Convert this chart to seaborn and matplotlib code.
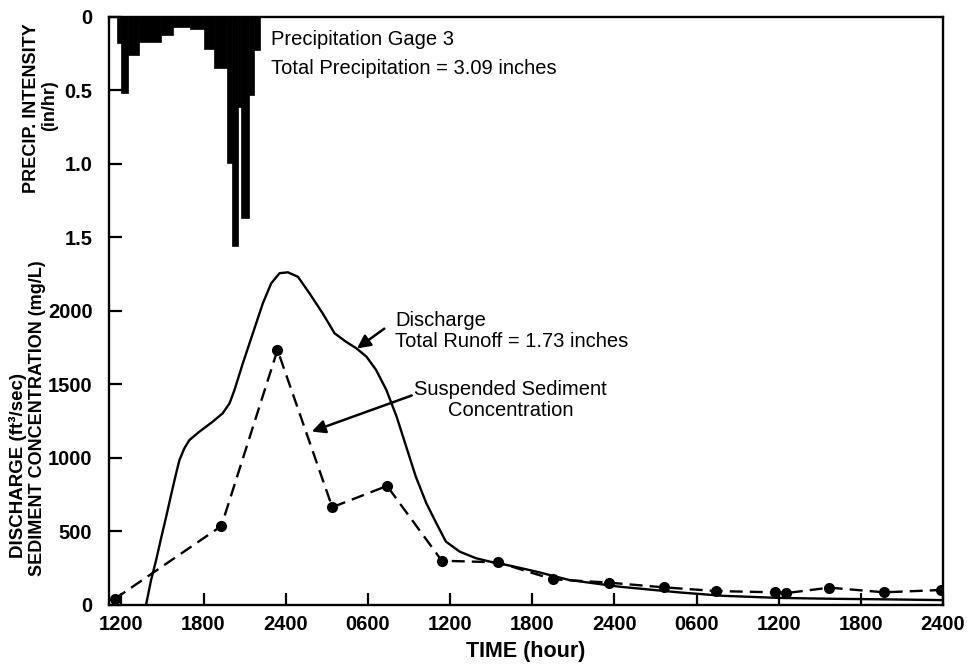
import matplotlib
matplotlib.use("Agg")
import matplotlib.pyplot as plt
import seaborn as sns
import numpy as np
import pandas as pd

# ---------------- data ----------------
# precipitation (hours after 1200 on day 1), breakpoint intervals
precip_edges = [-0.35, 0.0, 0.5, 1.3, 2.9, 3.75, 5.0, 6.0, 6.75, 7.7, 8.05,
                8.55, 8.7, 9.3, 9.65, 10.15]
precip_rate = [0.175, 0.515, 0.26, 0.17, 0.12, 0.066, 0.085, 0.22, 0.35, 0.99,
               1.56, 0.61, 1.37, 0.53, 0.225]

# discharge (ft3/sec)
q_hours = [1.8, 2.17, 2.54, 2.9, 3.27, 3.63, 4.0, 4.24, 4.6, 4.97, 5.7, 6.67,
           7.4, 7.9, 8.26, 8.87, 9.6, 10.33, 10.94, 11.55, 12.16, 12.89, 13.74,
           14.7, 15.57, 16.4, 17.16, 17.9, 18.6, 19.35, 20.1, 20.8, 21.5,
           22.27, 23.0, 23.7, 24.7, 25.9, 26.9, 28.5, 30.3, 32.7, 36.4, 40.8,
           44.0, 48.0, 52.0, 56.0, 60.0]
q_cfs = [0, 170, 306, 454, 600, 748, 896, 986, 1066, 1122, 1179, 1247, 1304,
         1372, 1463, 1644, 1848, 2052, 2188, 2257, 2263, 2233, 2120, 1984, 1848,
         1791, 1746, 1689, 1599, 1463, 1281, 1077, 873, 692, 556, 431, 363, 318,
         295, 265, 227, 170, 124, 85, 62, 48, 42, 38, 33]

# suspended sediment concentration (mg/L)
sed_hours = [-0.5, 7.3, 11.4, 15.4, 19.4, 23.4, 27.5, 31.5, 35.6, 39.6, 43.4,
             47.7, 48.5, 51.7, 55.7, 59.85]
sed_conc = [40, 537, 1735, 665, 810, 301, 290, 175, 152, 120, 95, 86, 80, 118,
            86, 102]

time_ticks = [0, 6, 12, 18, 24, 30, 36, 42, 48, 54, 60]
time_labels = ["1200", "1800", "2400", "0600", "1200", "1800", "2400", "0600",
               "1200", "1800", "2400"]
q_ticks = [0, 500, 1000, 1500, 2000]
p_ticks = [0, 0.5, 1.0, 1.5]
p_labels = ["0", "0.5", "1.0", "1.5"]

# ---------------- style ----------------
sns.set_theme(style="white")
plt.rcParams["font.family"] = ["Liberation Sans", "DejaVu Sans"]
plt.rcParams["text.color"] = "black"
plt.rcParams["axes.labelcolor"] = "black"

fig = plt.figure(figsize=(9.71, 6.64), dpi=100)
ax = fig.add_axes([0.1123, 0.0889, 0.8589, 0.8855])

df_q = pd.DataFrame({"t": q_hours, "q": q_cfs})
df_s = pd.DataFrame({"t": sed_hours, "c": sed_conc})

sns.lineplot(data=df_q, x="t", y="q", ax=ax, color="black", lw=1.7,
             sort=False, estimator=None)
sns.lineplot(data=df_s, x="t", y="c", ax=ax, color="black", lw=1.7,
             linestyle=(0, (5.5, 3)), marker="o", markersize=8,
             markeredgewidth=0, sort=False, estimator=None)

ax.set_xlim(-0.9, 60)
ax.set_ylim(0, 4000)
ax.set_xticks(time_ticks)
ax.set_xticklabels(time_labels)
ax.set_yticks(q_ticks)
ax.set_yticklabels([str(v) for v in q_ticks])

for s in ax.spines.values():
    s.set_visible(True)
    s.set_color("black")
    s.set_linewidth(1.7)

ax.tick_params(axis="both", direction="in", length=9, width=1.6, color="black",
               labelsize=14.5, labelcolor="black")
ax.tick_params(axis="y", right=True, pad=12)
ax.tick_params(axis="x", bottom=True, pad=7)
for lab in ax.get_xticklabels() + ax.get_yticklabels():
    lab.set_fontweight("bold")

# precipitation axis (inverted, hanging from the top)
ax2 = ax.twinx()
widths = np.diff(precip_edges)
ax2.bar(precip_edges[:-1], precip_rate, width=widths, align="edge",
        color="black", edgecolor="black", linewidth=0.5)
ax2.set_ylim(4.0, 0)
ax2.yaxis.set_ticks_position("left")
ax2.set_yticks(p_ticks)
ax2.set_yticklabels(p_labels)
ax2.tick_params(axis="y", direction="in", length=9, width=1.6, color="black",
                labelsize=14.5, labelcolor="black", pad=12, right=False)
for lab in ax2.get_yticklabels():
    lab.set_fontweight("bold")
for s in ax2.spines.values():
    s.set_visible(False)
ax2.grid(False)
ax.grid(False)

ax.set_xlabel("TIME (hour)", fontsize=15.5, fontweight="bold", labelpad=5,
              color="black")
ax.set_ylabel("")
ax2.set_ylabel("")

# y-axis titles (rotated)
fig.text(18 / 971, 1 - 465 / 664, "DISCHARGE (ft³/sec)", rotation=90,
         fontsize=13.5, fontweight="bold", ha="center", va="center")
fig.text(38 / 971, 1 - 418 / 664, "SEDIMENT CONCENTRATION (mg/L)", rotation=90,
         fontsize=13, fontweight="bold", ha="center", va="center")
fig.text(31 / 971, 1 - 108 / 664, "PRECIP. INTENSITY", rotation=90,
         fontsize=13, fontweight="bold", ha="center", va="center")
fig.text(50 / 971, 1 - 106 / 664, "(in/hr)", rotation=90,
         fontsize=13, fontweight="bold", ha="center", va="center")

# annotations
ax.text(10.95, 3850, "Precipitation Gage 3", fontsize=14.5, va="center", ha="left")
ax.text(10.95, 3650, "Total Precipitation = 3.09 inches", fontsize=14.5,
        va="center", ha="left")

ax.text(20.0, 1865, "Discharge\nTotal Runoff = 1.73 inches", fontsize=14.5,
        va="center", ha="left", linespacing=1.15)
ax.annotate("", xy=(17.2, 1745), xytext=(19.2, 1880),
            arrowprops=dict(arrowstyle="-|>", color="black", lw=1.8,
                            mutation_scale=20, shrinkA=0, shrinkB=0))

ax.text(28.4, 1395, "Suspended Sediment\nConcentration", fontsize=14.5,
        va="center", ha="center", linespacing=1.15)
ax.annotate("", xy=(13.9, 1180), xytext=(21.2, 1425),
            arrowprops=dict(arrowstyle="-|>", color="black", lw=1.8,
                            mutation_scale=20, shrinkA=0, shrinkB=0))

fig.savefig("out.png", dpi=100)
